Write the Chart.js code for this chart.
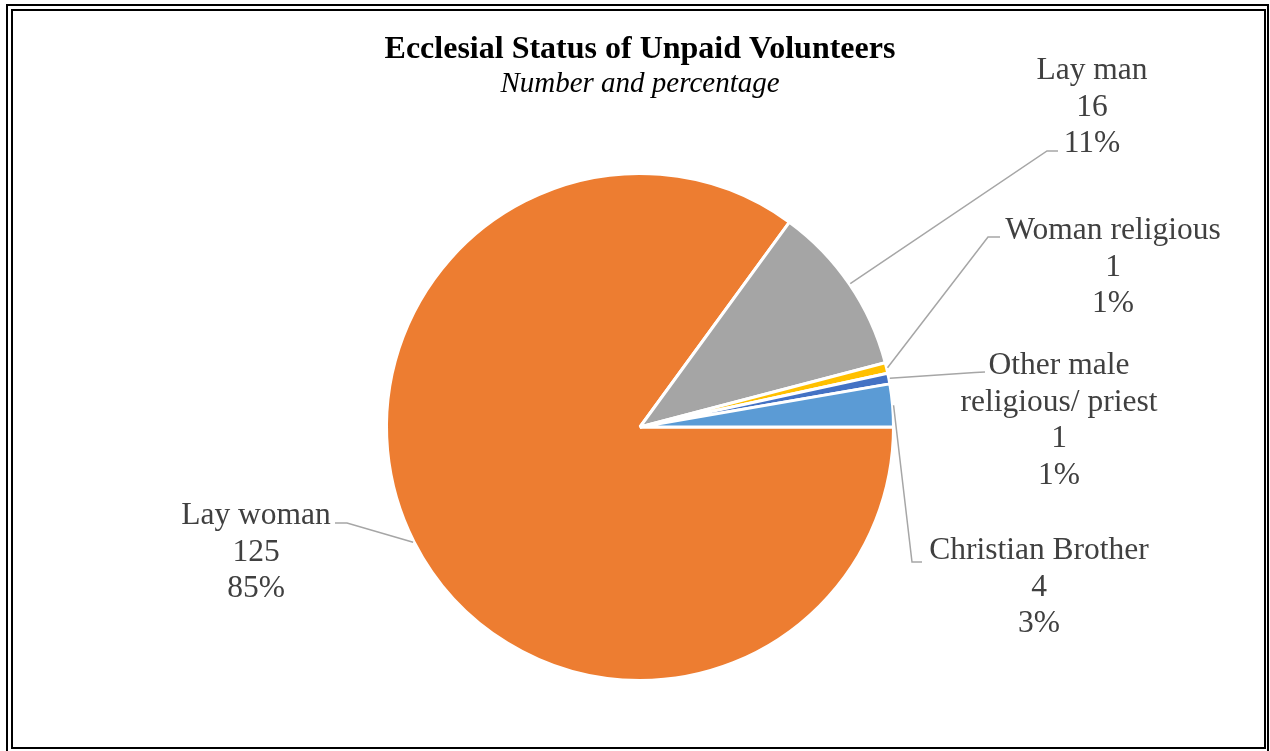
<!DOCTYPE html>
<html>
<head>
<meta charset="utf-8">
<script src="https://cdn.jsdelivr.net/npm/chart.js@4/dist/chart.umd.min.js"></script>
<style>
  html, body { margin: 0; padding: 0; background: #ffffff; }
  #wrap { width: 1270px; height: 751px; position: relative; }
</style>
</head>
<body>
<div id="wrap"><canvas id="chart" width="1270" height="751"></canvas></div>
<script>
// Ecclesial status of unpaid volunteers
const categories = ['Lay woman', 'Lay man', 'Woman religious', 'Other male religious/ priest', 'Christian Brother'];
const counts = [125, 16, 1, 1, 4];
const percentLabels = ['85%', '11%', '1%', '1%', '3%'];
const sliceColors = ['#ED7D31', '#A5A5A5', '#FFC000', '#4472C4', '#5B9BD5'];

// Text lines shown beside each slice (category may wrap onto two lines)
const labelLines = [
  ['Lay woman'],
  ['Lay man'],
  ['Woman religious'],
  ['Other male', 'religious/ priest'],
  ['Christian Brother']
];

// Where each data label sits and how its leader line bends
const labelLayout = [
  { cx: 256,  baseline: 524, elbow: [347, 523], end: [335, 523] },
  { cx: 1092, baseline: 79,  elbow: [1047, 151], end: [1058, 151] },
  { cx: 1113, baseline: 239, elbow: [988, 237], end: [1000, 237] },
  { cx: 1059, baseline: 374, elbow: [975, 372.5], end: [985, 372] },
  { cx: 1039, baseline: 559, elbow: [912, 562], end: [922, 562] }
];

const SERIF = '"Liberation Serif", "Times New Roman", serif';
const LINE_GAP = 36.5;

const framePlugin = {
  id: 'frame',
  beforeDraw(chart) {
    const ctx = chart.ctx;
    ctx.save();
    ctx.fillStyle = '#ffffff';
    ctx.fillRect(0, 0, chart.width, chart.height);
    ctx.strokeStyle = '#000000';
    ctx.lineWidth = 2;
    // outer rule
    ctx.beginPath();
    ctx.moveTo(7, 760);
    ctx.lineTo(7, 5);
    ctx.lineTo(1268, 5);
    ctx.lineTo(1268, 760);
    ctx.stroke();
    // inner rule
    ctx.strokeRect(12, 10, 1253, 738);
    ctx.restore();
  }
};

const titlePlugin = {
  id: 'titles',
  afterDraw(chart) {
    const ctx = chart.ctx;
    ctx.save();
    ctx.textAlign = 'center';
    ctx.textBaseline = 'alphabetic';
    ctx.fillStyle = '#000000';
    ctx.font = 'bold 32px ' + SERIF;
    ctx.fillText('Ecclesial Status of Unpaid Volunteers', 640, 58);
    ctx.font = 'italic 29px ' + SERIF;
    ctx.fillText('Number and percentage', 640, 92);
    ctx.restore();
  }
};

const leaderLabelPlugin = {
  id: 'leaderLabels',
  afterDatasetsDraw(chart) {
    const ctx = chart.ctx;
    const meta = chart.getDatasetMeta(0);
    ctx.save();
    meta.data.forEach((arc, i) => {
      const p = arc.getProps(['x', 'y', 'startAngle', 'endAngle', 'outerRadius'], true);
      const mid = (p.startAngle + p.endAngle) / 2;
      const r = p.outerRadius + 1;
      const sx = p.x + Math.cos(mid) * r;
      const sy = p.y + Math.sin(mid) * r;
      const lay = labelLayout[i];

      ctx.strokeStyle = '#A6A6A6';
      ctx.lineWidth = 1.5;
      ctx.beginPath();
      ctx.moveTo(sx, sy);
      ctx.lineTo(lay.elbow[0], lay.elbow[1]);
      ctx.lineTo(lay.end[0], lay.end[1]);
      ctx.stroke();

      const lines = labelLines[i].concat([String(counts[i]), percentLabels[i]]);
      ctx.fillStyle = '#404040';
      ctx.font = '31.5px ' + SERIF;
      ctx.textAlign = 'center';
      ctx.textBaseline = 'alphabetic';
      lines.forEach((t, k) => {
        ctx.fillText(t, lay.cx, lay.baseline + k * LINE_GAP);
      });
    });
    ctx.restore();
  }
};

new Chart(document.getElementById('chart'), {
  type: 'pie',
  data: {
    labels: categories,
    datasets: [{
      data: counts,
      backgroundColor: sliceColors,
      borderColor: '#ffffff',
      borderWidth: 3,
      hoverOffset: 0
    }]
  },
  options: {
    responsive: false,
    animation: false,
    rotation: 90,
    layout: { padding: { left: 385, right: 375, top: 172, bottom: 69 } },
    plugins: {
      legend: { display: false },
      title: { display: false },
      tooltip: { enabled: false }
    },
    events: []
  },
  plugins: [framePlugin, leaderLabelPlugin, titlePlugin]
});
</script>
</body>
</html>
